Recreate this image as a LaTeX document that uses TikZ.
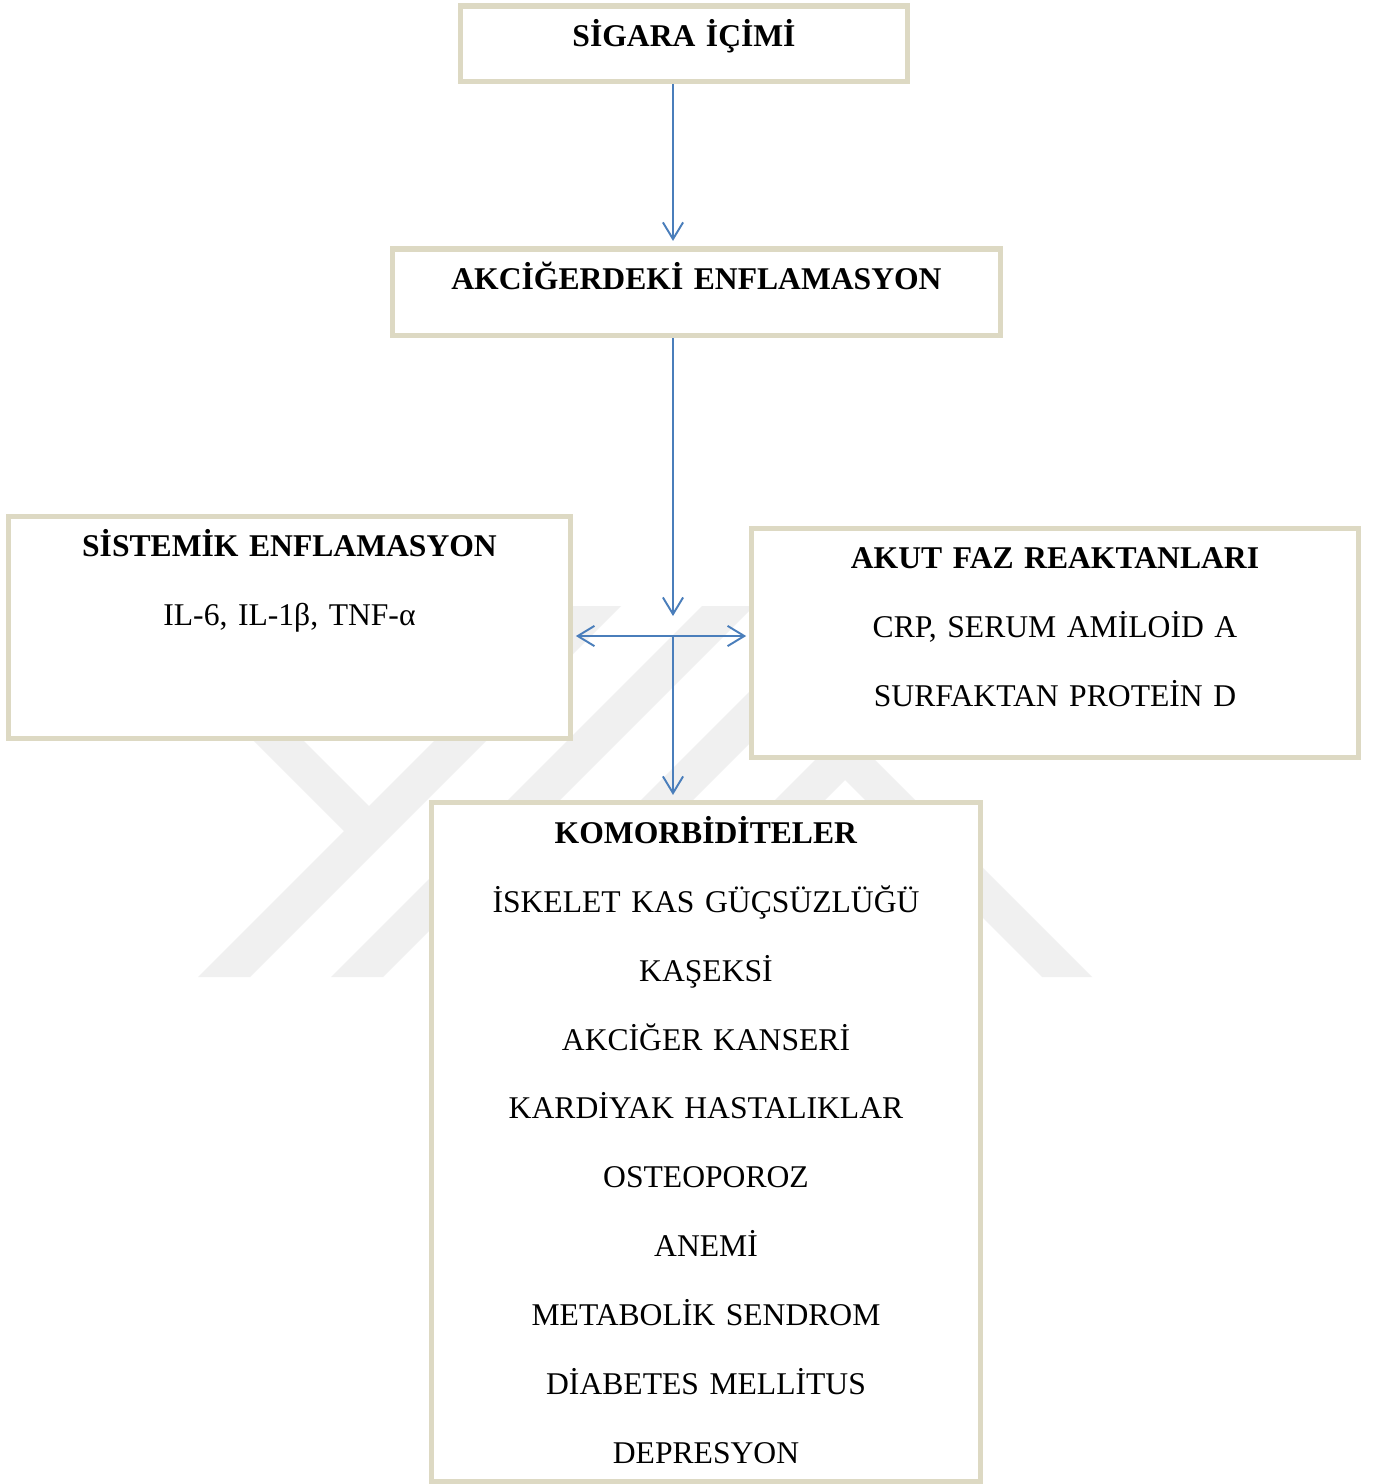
\documentclass[tikz,border=0pt]{standalone}
\usepackage{fontspec}
\setmainfont{Liberation Serif}
\usepackage{xcolor}
\usetikzlibrary{arrows.meta, positioning, calc}

\definecolor{boxline}{HTML}{DDD9C3}
\definecolor{arrowblue}{HTML}{4A7EBB}
\definecolor{markgray}{HTML}{F0F0F0}

\tikzset{
    fbox/.style={draw=boxline, fill=white, line width=2.85pt, text width=#1,
                 align=center, inner sep=0pt, outer sep=0pt, anchor=north,
                 text height=0.82cm, font=\fontsize{18pt}{39.2pt}\selectfont},
    barb/.tip={Straight Barb[length=9.5pt, width=11.5pt]},
    conn/.style={draw=arrowblue, line width=1.1pt}
}

\begin{document}
\begin{tikzpicture}[x=0.02cm, y=-0.02cm]

  % Page size and white background
  \path[use as bounding box, fill=white] (0,0) rectangle (1381,1484);

  % Faint watermark behind the boxes
  \fill[markgray] (119,606) -- (169,606) -- (385,822) -- (360,847) -- cycle;
  \fill[markgray] (569,606) -- (621,606) -- (250,977) -- (198,977) -- cycle;
  \fill[markgray] (702,606) -- (754,606) -- (383,977) -- (331,977) -- cycle;
  \fill[markgray] (835,606) -- (887,606) -- (516,977) -- (464,977) -- cycle;
  \fill[markgray] (598,977) -- (845,730) -- (1092,977) -- (1042,977)
                  -- (845,780) -- (648,977) -- cycle;

  % Boxes
  \node[fbox=8.96cm, text depth=0.70cm] (sigara) at (684,6)
    {\textbf{SİGARA İÇİMİ}};
  \node[fbox=12.18cm, text depth=0.92cm] (akciger) at (696.5,249)
    {\textbf{AKCİĞERDEKİ ENFLAMASYON}};
  \node[fbox=11.26cm, text depth=3.64cm] (sistemik) at (289.5,516)
    {\textbf{SİSTEMİK ENFLAMASYON}\\IL-6, IL-1β, TNF-α};
  \node[fbox=12.16cm, text depth=3.78cm] (akut) at (1055,528)
    {\textbf{AKUT FAZ REAKTANLARI}\\CRP, SERUM AMİLOİD A\\SURFAKTAN PROTEİN D};
  \node[fbox=11.0cm, text depth=12.76cm] (komorbid) at (706,802.5)
    {\textbf{KOMORBİDİTELER}\\İSKELET KAS GÜÇSÜZLÜĞÜ\\KAŞEKSİ\\AKCİĞER KANSERİ\\
     KARDİYAK HASTALIKLAR\\OSTEOPOROZ\\ANEMİ\\METABOLİK SENDROM\\
     DİABETES MELLİTUS\\DEPRESYON};

  % Branching point of the arrows
  \coordinate (hub) at (673,636);

  % Connectors
  \draw[conn, -barb, shorten <=1.4pt, shorten >=4.6pt]
    (sigara.south -| hub) -- (akciger.north -| hub);
  \draw[conn, -barb, shorten <=1.4pt]
    (akciger.south -| hub) -- ($(hub)+(0,-20)$);
  \draw[conn, barb-barb, shorten <=2.8pt, shorten >=2.8pt]
    (sistemik.east |- hub) -- (akut.west |- hub);
  \draw[conn, -barb, shorten >=4.3pt]
    (hub) -- (komorbid.north -| hub);

\end{tikzpicture}
\end{document}
